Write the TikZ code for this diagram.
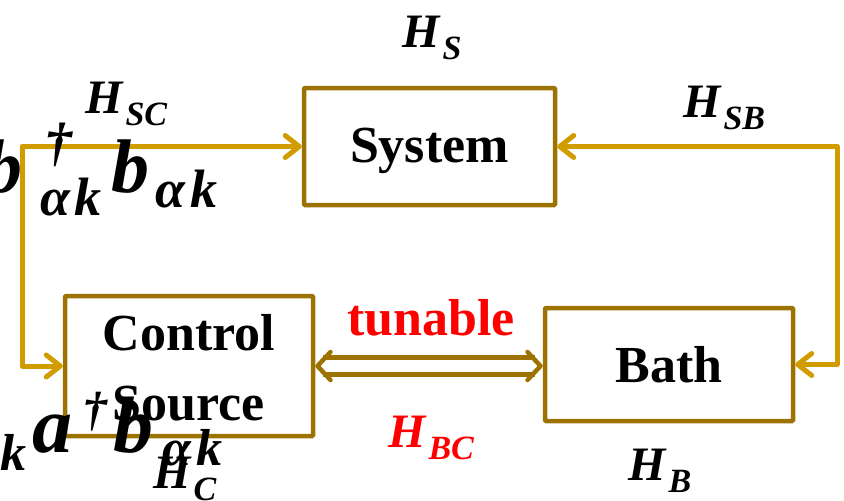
\documentclass[tikz,border=0pt]{standalone}
\usepackage{fontspec}
\setmainfont{Liberation Serif}
\usetikzlibrary{arrows.meta,calc}
\definecolor{boxc}{RGB}{156,115,0}
\definecolor{arrc}{RGB}{208,156,0}
\definecolor{redc}{RGB}{255,0,0}
\newcommand\fs[1]{\fontsize{#1}{#1}\selectfont}
\newcommand\hlab[1]{{\fs{48}\bfseries\itshape H\kern3pt\raisebox{-12pt}{\fs{34}#1}}}
\begin{document}
\begin{tikzpicture}[x=1pt,y=-1pt,
  blk/.style={draw=boxc,line width=4.5pt,rounded corners=1pt,align=center,inner sep=0pt,
    font=\fontsize{52}{70}\selectfont\bfseries},
  conn/.style={draw=arrc,line width=5pt,line cap=round,line join=round,
    {Straight Barb[length=14pt,width=22pt,round]}-{Straight Barb[length=14pt,width=22pt,round]}},
  dblline/.style={draw=boxc,double=white,line width=5pt,double distance=12pt,shorten <=8pt,shorten >=8pt},
  dbltips/.style={draw=boxc,line width=4.5pt,line cap=butt,dash pattern=on 0pt off 2000pt,
    {Straight Barb[length=13pt,width=28pt,round]}-{Straight Barb[length=13pt,width=28pt,round]}},
  lab/.style={anchor=base west,inner sep=0pt,font=\bfseries\itshape},
]
\useasboundingbox (0,0) rectangle (844,501);

% boxes
\node[blk,minimum width=251pt,minimum height=117pt,text depth=2pt] (sys) at (429.5,146.5) {System};
\node[blk,minimum width=248pt,minimum height=140pt] (ctl) at (189,366) {\rule{0pt}{40pt}Control\\Source};
\node[blk,minimum width=248pt,minimum height=113pt] (bath) at (669,364.5) {Bath};

% connectors
\coordinate (L) at (22,0);
\coordinate (R) at (837,0);
\draw[conn] (ctl.west) -- (ctl.west -| L) |- (sys.west);
\draw[conn] (sys.east) -- (sys.east -| R) |- (bath.east);
\draw[dblline] (ctl.east) -- (ctl.east -| bath.west);
\draw[dbltips] (ctl.east) -- (ctl.east -| bath.west);

% labels
\node[lab] (hs) at (402,47) {\hlab{S}};
\node[lab] (hsc) at (85,113) {\hlab{SC}};
\node[lab] (hsb) at (683,117) {\hlab{SB}};
\node[lab] (hb) at (628,480) {\hlab{B}};
\node[lab,text=redc] (hbc) at (388,447) {\hlab{BC}};
\node[anchor=base west,inner sep=0pt,text=redc,font=\fs{52}\bfseries] (tun) at (347,335) {tunable};

% overflowing operator labels (top left)
\node[lab,font=\fs{76}\bfseries\itshape] (b1) at (-16,192) {b};
\node[lab,font=\fs{54}\bfseries\itshape] (dg1) at (45,160) {†};
\node[lab,font=\fs{54}\bfseries\itshape] (ak1) at (40,215) {α\kern4pt k};
\node[lab,font=\fs{76}\bfseries\itshape] (b2) at (111,192) {b};
\node[lab,font=\fs{54}\bfseries\itshape] (ak2) at (155,207) {α\kern5pt k};

% overflowing operator labels (bottom left)
\node[lab,font=\fs{52}\bfseries\itshape] (k3) at (0,470) {k};
\node[lab,font=\fs{80}\bfseries\itshape] (a3) at (32,452) {a};
\node[lab,font=\fs{48}\bfseries\itshape] (dg3) at (83,425) {†};
\node[lab,font=\fs{80}\bfseries\itshape] (b3) at (113,452) {b};
\node[lab] (hc) at (153,488) {\hlab{C}};
\node[lab,font=\fs{52}\bfseries\itshape] (ak3) at (162,465) {α\kern6pt k};
\end{tikzpicture}
\end{document}
